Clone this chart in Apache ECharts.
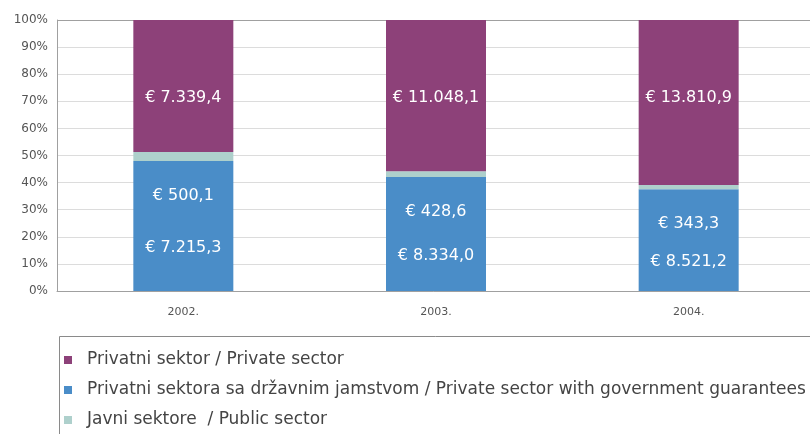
<!DOCTYPE html>
<html>
<head>
<meta charset="utf-8">
<script src="https://cdn.jsdelivr.net/npm/echarts@6/dist/echarts.min.js"></script>
<style>
  html, body { margin: 0; padding: 0; background: #fff; }
  #chart { width: 810px; height: 434px; }
</style>
</head>
<body>
<div id="chart"></div>
<script>
// Debt by sector, in millions of euros
const years = ['2002.', '2003.', '2004.'];
const privateSector = [7339.4, 11048.1, 13810.9];
const guaranteedSector = [7215.3, 8334.0, 8521.2];
const publicSector = [500.1, 428.6, 343.3];

const seriesNames = {
  private: 'Privatni sektor / Private sector',
  guaranteed: 'Privatni sektora sa državnim jamstvom / Private sector with government guarantees',
  public: 'Javni sektore  / Public sector'
};

const colors = {
  private: '#8d4179',
  guaranteed: '#4a8dc8',
  public: '#aed0cc'
};

// share of each year's total, so the columns stack to 100 %
const totals = years.map((_, i) => privateSector[i] + guaranteedSector[i] + publicSector[i]);
const share = arr => arr.map((v, i) => ({ value: v / totals[i] * 100, raw: v }));

// "€ 7.339,4" style number formatting
function euro(v) {
  const parts = v.toFixed(1).split('.');
  const intPart = parts[0].replace(/\B(?=(\d{3})+(?!\d))/g, '.');
  return '€ ' + intPart + ',' + parts[1];
}

const labelFont = {
  color: '#ffffff',
  fontFamily: 'DejaVu Sans',
  fontSize: 16,
  formatter: p => euro(p.data.raw)
};

// light grid lines, with the 100 % line drawn as the frame's top edge
const gridLineColors = Array.from({ length: 11 }, (_, i) => (i === 10 ? '#a0a0a0' : '#dcdcdc'));

const chart = echarts.init(document.getElementById('chart'));
chart.setOption({
  animation: false,
  backgroundColor: '#ffffff',
  grid: {
    left: 57, top: 20, right: -5, bottom: 143,
    outerBoundsMode: 'none'
  },
  // legend frame: top and left edges; it runs off the right and bottom of the chart
  graphic: [
    {
      type: 'line',
      shape: { x1: 59.5, y1: 336.5, x2: 820, y2: 336.5 },
      style: { stroke: '#8a8a8a', lineWidth: 1 }
    },
    {
      type: 'line',
      shape: { x1: 59.5, y1: 336.5, x2: 59.5, y2: 440 },
      style: { stroke: '#8a8a8a', lineWidth: 1 }
    }
  ],
  legend: {
    orient: 'vertical',
    left: 64, top: 351,
    data: [seriesNames.private, seriesNames.guaranteed, seriesNames.public],
    icon: 'rect',
    itemWidth: 8, itemHeight: 8,
    itemGap: 12,
    padding: 0,
    textStyle: {
      fontFamily: 'DejaVu Sans', fontSize: 17, color: '#444',
      lineHeight: 18, padding: [0, 0, 0, 10]
    }
  },
  xAxis: {
    type: 'category',
    data: years,
    axisLine: { show: true, lineStyle: { color: '#a0a0a0' } },
    axisTick: { show: false },
    axisLabel: { fontFamily: 'DejaVu Sans', fontSize: 11, color: '#555', margin: 16 }
  },
  yAxis: {
    type: 'value',
    min: 0, max: 100, interval: 10,
    axisLine: { show: true, lineStyle: { color: '#a0a0a0' } },
    axisTick: { show: false },
    axisLabel: { fontFamily: 'DejaVu Sans', fontSize: 12, color: '#555', margin: 9, formatter: '{value}%' },
    splitLine: { lineStyle: { color: gridLineColors } }
  },
  series: [
    {
      name: seriesNames.guaranteed,
      type: 'bar', stack: 'total', barWidth: 100,
      itemStyle: { color: colors.guaranteed },
      data: share(guaranteedSector),
      label: Object.assign({ show: true, position: 'inside', offset: [0, 22] }, labelFont)
    },
    {
      name: seriesNames.public,
      type: 'bar', stack: 'total', barWidth: 100,
      itemStyle: { color: colors.public },
      data: share(publicSector),
      label: Object.assign({ show: true, position: 'bottom', distance: 27 }, labelFont)
    },
    {
      name: seriesNames.private,
      type: 'bar', stack: 'total', barWidth: 100,
      itemStyle: { color: colors.private },
      data: share(privateSector),
      label: Object.assign({ show: true, position: 'insideTop', distance: 70 }, labelFont)
    }
  ]
});
</script>
</body>
</html>
